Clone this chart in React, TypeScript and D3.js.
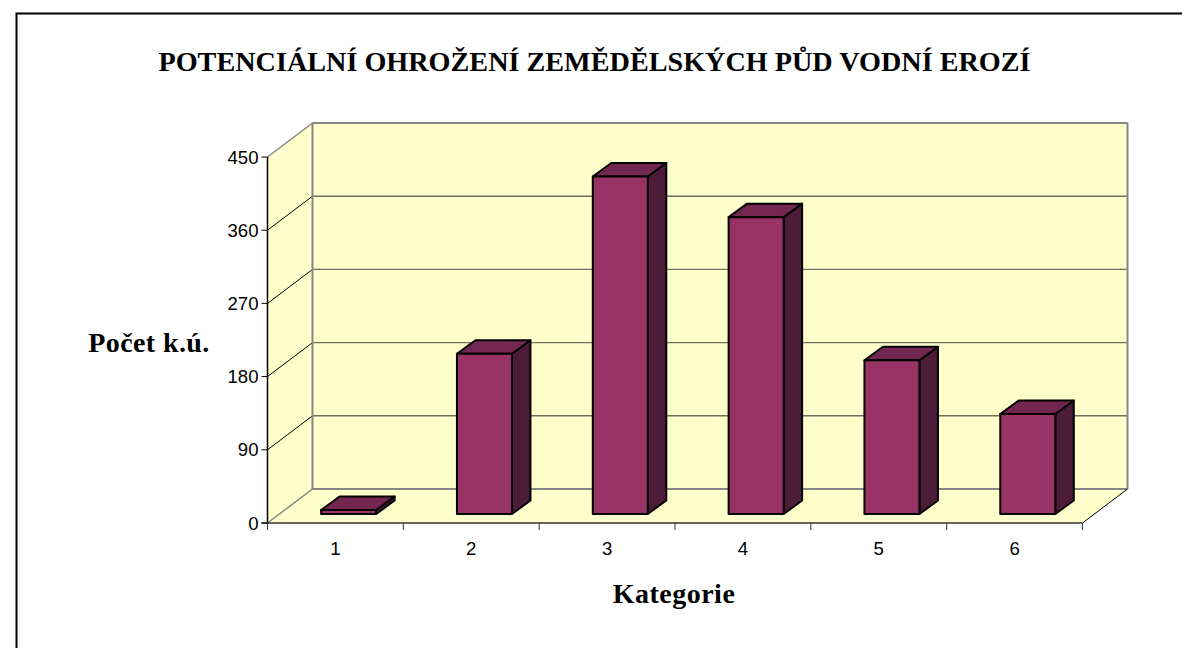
import React from "react";
import { scaleBand, scaleLinear } from "d3";

const title = "POTENCIÁLNÍ OHROŽENÍ ZEMĚDĚLSKÝCH PŮD VODNÍ EROZÍ";
const yTitle = "Počet k.ú.";
const xTitle = "Kategorie";
const categories = ["1", "2", "3", "4", "5", "6"];
const counts = [5, 197, 415, 365, 189, 123];
const yTicks = [0, 90, 180, 270, 360, 450];

// box geometry
const left = 267.5;
const right = 1082.5;
const floorY = 523;
const topY = 157;
const wallDx = 45;
const wallDy = 34;
// bars stand a little way back from the front edge
const barShiftX = 13.2;
const barShiftY = 9;
const barDx = 18.5;
const barDy = 13.5;

const axisFont = "'Liberation Sans', Arial, sans-serif";
const titleFont = "'Liberation Serif', 'Times New Roman', serif";

const poly = (pts: number[][]) => pts.map((p) => p.join(",")).join(" ");

export default function App() {
  const y = scaleLinear().domain([0, 450]).range([floorY, topY]);
  const x = scaleBand<string>().domain(categories).range([left, right]);
  const bars = scaleBand<string>()
    .domain(categories)
    .range([left + barShiftX, right + barShiftX])
    .paddingInner(0.595)
    .paddingOuter(0.2975);

  const backL = left + wallDx;
  const backR = right + wallDx;

  return (
    <svg width={1182} height={648} style={{ position: "absolute", left: 0, top: 0 }}>
      <rect x={16.5} y={13.5} width={1400} height={800} fill="#fff" stroke="#000" strokeWidth={2} />

      {/* walls and floor */}
      <polygon
        points={poly([[backL, topY - wallDy], [backR, topY - wallDy], [backR, floorY - wallDy], [backL, floorY - wallDy]])}
        fill="#ffffcc"
      />
      <polygon
        points={poly([[left, topY], [backL, topY - wallDy], [backL, floorY - wallDy], [left, floorY]])}
        fill="#ffffcc"
      />
      <polygon
        points={poly([[left, floorY], [right, floorY], [backR, floorY - wallDy], [backL, floorY - wallDy]])}
        fill="#ffffcc"
      />

      {/* gridlines, the zero line stays grey */}
      {yTicks.map((t) => (
        <g key={t}>
          {t !== 0 && t !== 450 && (
            <line x1={left} y1={y(t)} x2={backL} y2={y(t) - wallDy} stroke="#000" strokeWidth={1} />
          )}
          <line
            x1={backL}
            y1={y(t) - wallDy}
            x2={backR}
            y2={y(t) - wallDy}
            stroke={t === 0 || t === 450 ? "#868686" : "#6f6f5c"}
            strokeWidth={t === 0 || t === 450 ? 2 : 1.4}
          />
        </g>
      ))}
      <line x1={backL} y1={topY - wallDy} x2={backL} y2={floorY - wallDy} stroke="#868686" strokeWidth={2} />
      <line x1={backR} y1={topY - wallDy} x2={backR} y2={floorY - wallDy} stroke="#868686" strokeWidth={2} />
      <line x1={left} y1={topY} x2={backL} y2={topY - wallDy} stroke="#868686" strokeWidth={1.5} />
      <line x1={left} y1={floorY} x2={backL} y2={floorY - wallDy} stroke="#868686" strokeWidth={1.5} />
      <line x1={right} y1={floorY} x2={backR} y2={floorY - wallDy} stroke="#000" strokeWidth={1} />

      {/* bars */}
      {counts.map((v, i) => {
        const x0 = bars(categories[i])!;
        const x1 = x0 + bars.bandwidth();
        const bottom = y(0) - barShiftY;
        const top = y(v) - barShiftY;
        return (
          <g key={categories[i]} stroke="#000" strokeWidth={2} strokeLinejoin="round">
            <polygon
              points={poly([[x1, top], [x1 + barDx, top - barDy], [x1 + barDx, bottom - barDy], [x1, bottom]])}
              fill="#4d1c38"
            />
            <polygon
              points={poly([[x0, top], [x1, top], [x1 + barDx, top - barDy], [x0 + barDx, top - barDy]])}
              fill="#732750"
            />
            <rect x={x0} y={top} width={x1 - x0} height={bottom - top} fill="#993366" />
          </g>
        );
      })}

      {/* axes */}
      <line x1={left} y1={topY} x2={left} y2={floorY + 1} stroke="#000" strokeWidth={1.5} />
      <line x1={left - 6} y1={floorY} x2={right} y2={floorY} stroke="#333" strokeWidth={1.5} />
      {yTicks.map((t) => (
        <g key={t}>
          <line x1={left - 6} y1={y(t)} x2={left} y2={y(t)} stroke="#000" />
          <text x={left - 9} y={y(t) + 6.5} textAnchor="end" fontFamily={axisFont} fontSize={18.6} fill="#000">
            {t}
          </text>
        </g>
      ))}
      {categories.map((c) => (
        <g key={c}>
          <line x1={x(c)!} y1={floorY} x2={x(c)!} y2={floorY + 7} stroke="#333" />
          <text
            x={x(c)! + x.bandwidth() / 2}
            y={555}
            textAnchor="middle"
            fontFamily={axisFont}
            fontSize={18.6}
            fill="#000"
          >
            {c}
          </text>
        </g>
      ))}
      <line x1={right} y1={floorY} x2={right} y2={floorY + 7} stroke="#333" />

      {/* titles */}
      <text x={594.5} y={71} textAnchor="middle" fontFamily={titleFont} fontWeight="bold" fontSize={28.2} fill="#000">
        {title}
      </text>
      <text x={149} y={352} textAnchor="middle" fontFamily={titleFont} fontWeight="bold" fontSize={28} letterSpacing={0.4} fill="#000">
        {yTitle}
      </text>
      <text x={674} y={603} textAnchor="middle" fontFamily={titleFont} fontWeight="bold" fontSize={28} letterSpacing={0.5} fill="#000">
        {xTitle}
      </text>
    </svg>
  );
}
